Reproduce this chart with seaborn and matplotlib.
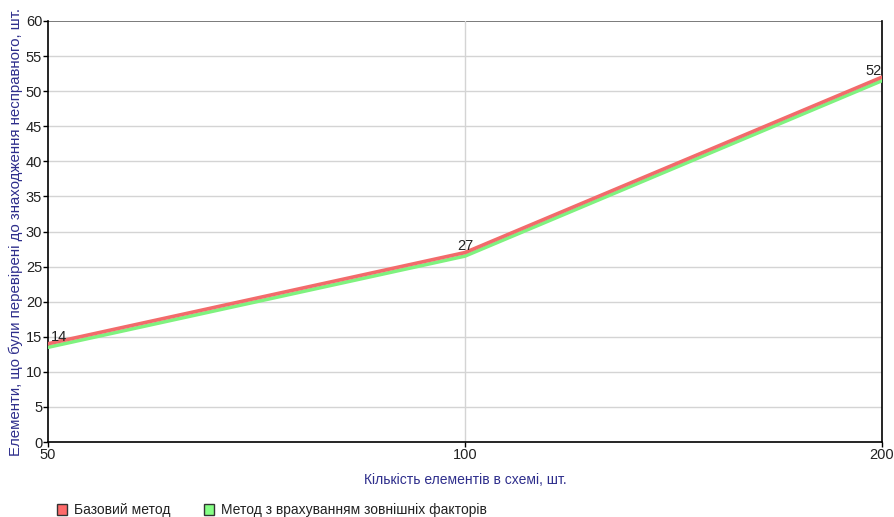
import matplotlib
matplotlib.use("Agg")
import matplotlib.pyplot as plt
from matplotlib.patches import Patch
import seaborn as sns
import pandas as pd

# Chart data
element_counts = ["50", "100", "200"]
base_method = [14, 27, 52]
external_factors_method = [13.5, 26.5, 51.5]
series_names = ["Базовий метод", "Метод з врахуванням зовнішніх факторів"]
y_ticks = list(range(0, 61, 5))

RED = "#f26b6b"
GREEN = "#7ff27f"
LABEL_BLUE = "#2e2e8c"

sns.set_theme(style="white")
plt.rcParams["font.family"] = ["Liberation Sans", "DejaVu Sans"]

rows = []
for name, values in zip(series_names, [base_method, external_factors_method]):
    for i, (cat, v) in enumerate(zip(element_counts, values)):
        rows.append({"pos": i, "count": cat, "value": v, "series": name})
df = pd.DataFrame(rows)

fig = plt.figure(figsize=(8.94, 5.17), dpi=100)
ax = fig.add_axes([48 / 894, 75 / 517, 834 / 894, 421 / 517])

# grid lines
for yv in y_ticks[1:-1]:
    ax.axhline(yv, color="#d4d4d4", lw=1, zorder=0)
ax.axhline(60, color="#707070", lw=1.3, zorder=0)
ax.axvline(1, color="#d4d4d4", lw=1, zorder=0)

# green drawn first, red on top
sns.lineplot(data=df, x="pos", y="value", hue="series",
             hue_order=[series_names[1], series_names[0]],
             palette={series_names[0]: RED, series_names[1]: GREEN},
             linewidth=2.6, legend=False, ax=ax, zorder=3)

ax.set_xlim(0, 2)
ax.set_ylim(0, 60)
ax.set_xticks(range(len(element_counts)))
ax.set_xticklabels(element_counts)
ax.set_yticks(y_ticks)
ax.tick_params(axis="both", direction="out", length=3.6, width=1, color="black",
               labelsize=10.5, labelcolor="#222222", pad=0.6, bottom=True, left=True)

for side in ["left", "bottom", "right"]:
    ax.spines[side].set_visible(True)
    ax.spines[side].set_color("black")
    ax.spines[side].set_linewidth(1.2)
ax.spines["top"].set_visible(False)

# value labels above the base method line
aligns = ["left", "center", "right"]
offsets = [2, 0, 0]
for i, (v, ha, dx) in enumerate(zip(base_method, aligns, offsets)):
    ax.annotate(str(v), (i, v), xytext=(dx, -0.5), textcoords="offset points",
                ha=ha, va="bottom", fontsize=10.5, color="#222222", zorder=5)

ax.set_xlabel("Кількість елементів в схемі, шт.", fontsize=10,
              color=LABEL_BLUE, labelpad=8)
ax.set_ylabel("Елементи, що були перевірені до знаходження несправного, шт.",
              fontsize=10.8, color=LABEL_BLUE, labelpad=2)

handles = [Patch(facecolor="#ff6a6a", edgecolor="#333333", linewidth=1),
           Patch(facecolor="#85ff85", edgecolor="#333333", linewidth=1)]
fig.legend(handles, series_names, loc="lower left", bbox_to_anchor=(44 / 894, -0.025),
           ncol=2, frameon=False, fontsize=10, handlelength=0.75, handleheight=0.75,
           handletextpad=0.5, columnspacing=2.4, labelcolor="#222222")

fig.savefig("out.png", dpi=100)
